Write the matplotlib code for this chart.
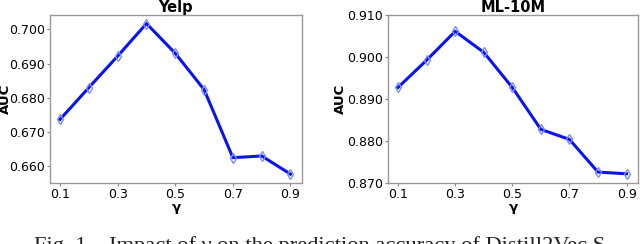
import matplotlib
matplotlib.use("Agg")
import matplotlib.pyplot as plt

gamma = [0.1, 0.2, 0.3, 0.4, 0.5, 0.6, 0.7, 0.8, 0.9]
yelp_auc = [0.6737, 0.6830, 0.6922, 0.7017, 0.6930, 0.6824, 0.6625, 0.6630, 0.6577]
ml10m_auc = [0.8928, 0.8993, 0.9062, 0.9012, 0.8928, 0.8828, 0.8804, 0.8726, 0.8722]
xticks = [0.1, 0.3, 0.5, 0.7, 0.9]
yelp_yticks = [0.660, 0.670, 0.680, 0.690, 0.700]
ml_yticks = [0.870, 0.880, 0.890, 0.900, 0.910]
caption = "Fig. 1.   Impact of \u03b3 on the prediction accuracy of Distill2Vec S"

fig = plt.figure(figsize=(6.4, 2.44), dpi=100)
ax1 = fig.add_axes([50/640, 1-183/244, 252/640, 168/244])
ax2 = fig.add_axes([388/640, 1-183/244, 250/640, 168/244])

def draw(ax, vals, yticks, ylim, title, lab_x):
    ax.plot(gamma, vals, color="#0a14f0", lw=2.2, marker="d", ms=5,
            mfc="none", mec="#7f8cff", mew=1.0)
    ax.set_xlim(0.065, 0.94)
    ax.set_ylim(*ylim)
    ax.set_xticks(xticks)
    ax.set_xticklabels([str(x) for x in xticks])
    ax.set_yticks(yticks)
    ax.set_yticklabels(["%.3f" % y for y in yticks])
    ax.tick_params(labelsize=9, length=2.5, width=0.8, color="#888888", pad=1.2)
    for s in ax.spines.values():
        s.set_color("#999999")
        s.set_linewidth(1.0)
    ax.set_title(title, fontsize=10.5, fontweight="bold", pad=0.5)
    ax.set_xlabel("\u03b3", fontsize=9.5, fontweight="bold", labelpad=0)
    ax.set_ylabel("AUC", fontsize=9.5, fontweight="bold")
    ax.yaxis.set_label_coords(lab_x, 0.5)

draw(ax1, yelp_auc, yelp_yticks, (0.6551, 0.7042), "Yelp", -0.151)
draw(ax2, ml10m_auc, ml_yticks, (0.870, 0.9101), "ML-10M", -0.164)

fig.text(0.5, 1-236/244, caption, ha="center", va="top", fontsize=16.2,
         family="Liberation Serif", color="#222222")

fig.savefig("out.png", dpi=100)
